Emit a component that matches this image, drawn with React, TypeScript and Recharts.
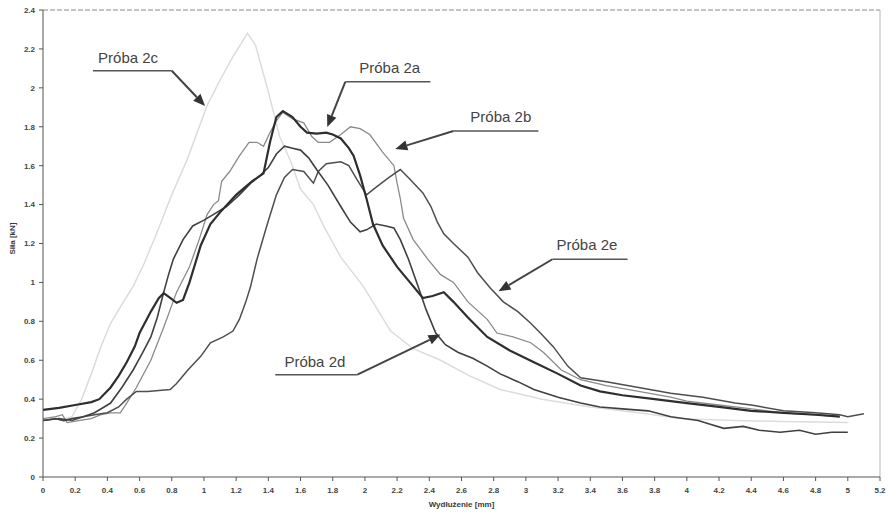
import React from "react";
import { LineChart, Line, XAxis, YAxis, ReferenceLine, ReferenceDot } from "recharts";

// values: [elongation mm, force kN]
const proba2a: [number, number][] = [
  [0, 0.345], [0.1, 0.355], [0.2, 0.37], [0.3, 0.385], [0.35, 0.4], [0.42, 0.46], [0.47, 0.52],
  [0.52, 0.59], [0.57, 0.67], [0.6, 0.74], [0.67, 0.85], [0.72, 0.92], [0.75, 0.945], [0.79, 0.92],
  [0.83, 0.895], [0.87, 0.91], [0.91, 1.0], [0.98, 1.19], [1.04, 1.3], [1.1, 1.36], [1.2, 1.45],
  [1.3, 1.52], [1.37, 1.56], [1.41, 1.72], [1.45, 1.85], [1.49, 1.88], [1.55, 1.85], [1.6, 1.8],
  [1.64, 1.77], [1.7, 1.765], [1.76, 1.77], [1.8, 1.76], [1.85, 1.74], [1.9, 1.69], [1.93, 1.65],
  [1.97, 1.55], [2.01, 1.43], [2.05, 1.3], [2.11, 1.19], [2.2, 1.08], [2.28, 1.0], [2.36, 0.92],
  [2.42, 0.93], [2.49, 0.95], [2.55, 0.9], [2.64, 0.82], [2.76, 0.72], [2.9, 0.65], [3.05, 0.59],
  [3.2, 0.53], [3.34, 0.47], [3.46, 0.44], [3.6, 0.42], [3.8, 0.4], [4.0, 0.38], [4.2, 0.36],
  [4.4, 0.34], [4.6, 0.33], [4.8, 0.32], [4.95, 0.31],
];

const proba2b: [number, number][] = [
  [0, 0.3], [0.08, 0.31], [0.12, 0.32], [0.15, 0.28], [0.22, 0.29], [0.3, 0.3], [0.36, 0.32],
  [0.42, 0.33], [0.48, 0.33], [0.52, 0.38], [0.58, 0.46], [0.67, 0.6], [0.75, 0.77], [0.83, 0.95],
  [0.91, 1.08], [0.97, 1.22], [1.02, 1.35], [1.06, 1.4], [1.09, 1.42], [1.11, 1.52], [1.16, 1.57],
  [1.22, 1.65], [1.28, 1.72], [1.33, 1.72], [1.37, 1.7], [1.41, 1.77], [1.45, 1.83], [1.49, 1.875],
  [1.55, 1.84], [1.62, 1.82], [1.67, 1.75], [1.71, 1.72], [1.78, 1.72], [1.85, 1.76], [1.91, 1.8],
  [1.97, 1.79], [2.03, 1.76], [2.11, 1.67], [2.18, 1.6], [2.2, 1.51], [2.22, 1.43], [2.24, 1.33],
  [2.3, 1.22], [2.39, 1.12], [2.47, 1.04], [2.55, 1.0], [2.64, 0.9], [2.76, 0.81], [2.82, 0.74],
  [2.92, 0.72], [3.03, 0.69], [3.11, 0.64], [3.22, 0.55], [3.34, 0.5], [3.5, 0.47], [3.7, 0.44],
  [3.9, 0.41], [4.0, 0.39], [4.2, 0.37], [4.3, 0.36], [4.5, 0.34], [4.6, 0.33], [4.8, 0.32],
  [4.95, 0.31],
];

const proba2c: [number, number][] = [
  [0.1, 0.29], [0.18, 0.31], [0.24, 0.4], [0.3, 0.53], [0.36, 0.67], [0.42, 0.79], [0.5, 0.9],
  [0.56, 0.98], [0.63, 1.1], [0.71, 1.26], [0.8, 1.45], [0.9, 1.64], [1.02, 1.91], [1.1, 2.04],
  [1.18, 2.16], [1.27, 2.28], [1.32, 2.22], [1.4, 1.98], [1.47, 1.75], [1.54, 1.62], [1.6, 1.48],
  [1.68, 1.4], [1.75, 1.28], [1.85, 1.13], [1.99, 0.98], [2.16, 0.75], [2.3, 0.66], [2.47, 0.6],
  [2.65, 0.52], [2.84, 0.45], [3.1, 0.4], [3.4, 0.36], [3.7, 0.33], [3.96, 0.3], [4.3, 0.29],
  [4.6, 0.285], [5.0, 0.28],
];

const proba2d: [number, number][] = [
  [0, 0.29], [0.08, 0.3], [0.13, 0.29], [0.18, 0.3], [0.25, 0.31], [0.32, 0.33], [0.38, 0.36],
  [0.42, 0.38], [0.49, 0.46], [0.56, 0.55], [0.62, 0.64], [0.67, 0.72], [0.71, 0.82], [0.75, 0.95],
  [0.78, 1.04], [0.81, 1.12], [0.87, 1.22], [0.93, 1.29], [1.0, 1.32], [1.06, 1.35], [1.14, 1.39],
  [1.22, 1.45], [1.29, 1.51], [1.35, 1.55], [1.4, 1.59], [1.45, 1.66], [1.5, 1.7], [1.55, 1.69],
  [1.6, 1.68], [1.65, 1.64], [1.7, 1.58], [1.77, 1.5], [1.85, 1.39], [1.91, 1.31], [1.97, 1.26],
  [2.01, 1.27], [2.07, 1.3], [2.13, 1.29], [2.18, 1.28], [2.22, 1.22], [2.27, 1.12], [2.33, 0.98],
  [2.38, 0.86], [2.44, 0.74], [2.5, 0.68], [2.58, 0.64], [2.67, 0.61], [2.76, 0.57], [2.84, 0.53],
  [2.95, 0.49], [3.05, 0.45], [3.2, 0.41], [3.34, 0.38], [3.46, 0.36], [3.6, 0.35], [3.76, 0.34],
  [3.9, 0.31], [4.07, 0.29], [4.15, 0.27], [4.23, 0.25], [4.35, 0.26], [4.45, 0.24], [4.58, 0.23],
  [4.7, 0.24], [4.8, 0.22], [4.9, 0.23], [5.0, 0.23],
];

const proba2e: [number, number][] = [
  [0, 0.29], [0.1, 0.3], [0.18, 0.29], [0.25, 0.31], [0.32, 0.32], [0.4, 0.33], [0.47, 0.36],
  [0.52, 0.4], [0.58, 0.44], [0.65, 0.44], [0.72, 0.445], [0.79, 0.45], [0.83, 0.48], [0.9, 0.55],
  [0.98, 0.62], [1.04, 0.69], [1.12, 0.72], [1.18, 0.75], [1.22, 0.81], [1.26, 0.9], [1.29, 0.98],
  [1.33, 1.12], [1.39, 1.29], [1.45, 1.45], [1.5, 1.54], [1.55, 1.58], [1.62, 1.57], [1.66, 1.53],
  [1.68, 1.51], [1.71, 1.57], [1.76, 1.61], [1.85, 1.62], [1.9, 1.6], [1.95, 1.53], [2.01, 1.45],
  [2.07, 1.49], [2.15, 1.54], [2.22, 1.58], [2.28, 1.53], [2.36, 1.46], [2.41, 1.39], [2.45, 1.31],
  [2.49, 1.25], [2.55, 1.2], [2.64, 1.13], [2.7, 1.05], [2.78, 0.97], [2.86, 0.9], [2.95, 0.85],
  [3.03, 0.79], [3.09, 0.74], [3.17, 0.67], [3.26, 0.57], [3.34, 0.51], [3.5, 0.49], [3.7, 0.46],
  [3.9, 0.43], [4.1, 0.41], [4.3, 0.38], [4.4, 0.37], [4.6, 0.34], [4.8, 0.33], [4.95, 0.32],
  [5.0, 0.31], [5.1, 0.325],
];

const xTicks = [0, 0.2, 0.4, 0.6, 0.8, 1, 1.2, 1.4, 1.6, 1.8, 2, 2.2, 2.4, 2.6, 2.8, 3, 3.2, 3.4, 3.6, 3.8, 4, 4.2, 4.4, 4.6, 4.8, 5, 5.2];
const yTicks = [0, 0.2, 0.4, 0.6, 0.8, 1, 1.2, 1.4, 1.6, 1.8, 2, 2.2, 2.4];

// callouts: label, text anchor, underline [x1, x2, y], arrow [fromX, fromY, toX, toY]
const calloutLabels = ["Próba 2a", "Próba 2b", "Próba 2c", "Próba 2d", "Próba 2e"];
const calloutText: [number, number][] = [[1.965, 2.098], [2.655, 1.845], [0.342, 2.15], [1.5, 0.588], [3.19, 1.186]];
const calloutUnderline: [number, number, number][] = [
  [1.878, 2.407, 2.031], [2.55, 3.078, 1.778], [0.31, 0.8, 2.088], [1.443, 1.953, 0.526], [3.165, 3.632, 1.119],
];
const calloutArrow: [number, number, number, number][] = [
  [1.878, 2.031, 1.766, 1.799], [2.55, 1.778, 2.189, 1.686], [0.8, 2.088, 1.007, 1.907],
  [1.953, 0.526, 2.469, 0.732], [3.165, 1.119, 2.83, 0.954],
];

const toPoints = (arr: [number, number][]) => arr.map(([x, y]) => ({ x, y }));

const FONT = "Arial, 'Liberation Sans', sans-serif";
const tickStyle = { fontSize: 8, fontWeight: 700, fill: "#444", fontFamily: FONT };

const arrowShape = (p: any) => {
  const { x1, y1, x2, y2 } = p;
  const dx = x2 - x1;
  const dy = y2 - y1;
  const len = Math.hypot(dx, dy) || 1;
  const ux = dx / len;
  const uy = dy / len;
  const hl = 12;
  const hw = 5;
  const bx = x2 - ux * hl;
  const by = y2 - uy * hl;
  return (
    <g>
      <line x1={x1} y1={y1} x2={bx} y2={by} stroke="#444" strokeWidth={2} />
      <polygon
        points={`${x2},${y2} ${bx - uy * hw},${by + ux * hw} ${bx + uy * hw},${by - ux * hw}`}
        fill="#333"
      />
    </g>
  );
};

const series = [
  { name: "Próba 2c", data: proba2c, color: "#dcdcdc", width: 1.5 },
  { name: "Próba 2b", data: proba2b, color: "#8a8a8a", width: 1.3 },
  { name: "Próba 2e", data: proba2e, color: "#4e4e4e", width: 1.5 },
  { name: "Próba 2d", data: proba2d, color: "#404040", width: 1.6 },
  { name: "Próba 2a", data: proba2a, color: "#2e2e2e", width: 2.2 },
];

export default function App() {
  return (
    <div style={{ position: "absolute", left: 0, top: 0, background: "#fff" }}>
      <LineChart width={892} height={519} margin={{ top: 10, right: 12, bottom: 0, left: 0 }}>
        <XAxis
          type="number"
          dataKey="x"
          domain={[0, 5.2]}
          ticks={xTicks}
          interval={0}
          allowDuplicatedCategory={false}
          height={42}
          tickSize={4}
          tickMargin={6}
          tick={tickStyle}
          stroke="#555"
          tickFormatter={(v: number) => String(Number(v.toFixed(1)))}
          label={{
            value: "Wydłużenie [mm]",
            position: "insideBottom",
            offset: 12,
            style: { fontSize: 8, fontWeight: 700, fill: "#3a3a3a", fontFamily: FONT },
          }}
        />
        <YAxis
          type="number"
          domain={[0, 2.4]}
          ticks={yTicks}
          interval={0}
          width={43}
          tickSize={4}
          tickMargin={4}
          tick={tickStyle}
          stroke="#555"
          tickFormatter={(v: number) => String(Number(v.toFixed(1)))}
          label={{
            content: (p: any) => {
              const vb = p.viewBox || { x: 0, y: 10, width: 43, height: 467 };
              const cx = vb.x + 13;
              const cy = vb.y + vb.height / 2 - 5;
              return (
                <text
                  x={cx}
                  y={cy}
                  transform={`rotate(-90 ${cx} ${cy})`}
                  textAnchor="middle"
                  dominantBaseline="middle"
                  style={{ fontSize: 8, fontWeight: 700, fill: "#3a3a3a", fontFamily: FONT }}
                >
                  Siła [kN]
                </text>
              );
            },
          }}
        />
        <ReferenceLine y={2.4} stroke="#888" strokeDasharray="5 2" />
        <ReferenceLine x={5.2} stroke="#b5b5b5" />
        {series.map((s) => (
          <Line
            key={s.name}
            data={toPoints(s.data)}
            dataKey="y"
            name={s.name}
            type="linear"
            stroke={s.color}
            strokeWidth={s.width}
            dot={false}
            activeDot={false}
            isAnimationActive={false}
          />
        ))}
        {calloutLabels.map((lab, i) => (
          <ReferenceLine
            key={`u-${lab}`}
            segment={[
              { x: calloutUnderline[i][0], y: calloutUnderline[i][2] },
              { x: calloutUnderline[i][1], y: calloutUnderline[i][2] },
            ]}
            stroke="#555"
            strokeWidth={1.5}
          />
        ))}
        {calloutLabels.map((lab, i) => (
          <ReferenceLine
            key={`a-${lab}`}
            segment={[
              { x: calloutArrow[i][0], y: calloutArrow[i][1] },
              { x: calloutArrow[i][2], y: calloutArrow[i][3] },
            ]}
            shape={arrowShape}
          />
        ))}
        {calloutLabels.map((lab, i) => (
          <ReferenceDot
            key={`t-${lab}`}
            x={calloutText[i][0]}
            y={calloutText[i][1]}
            r={0}
            shape={(p: any) => (
              <text
                x={p.cx}
                y={p.cy}
                dominantBaseline="middle"
                style={{ fontSize: 15, fill: "#444", fontFamily: FONT }}
              >
                {lab}
              </text>
            )}
          />
        ))}
      </LineChart>
    </div>
  );
}
